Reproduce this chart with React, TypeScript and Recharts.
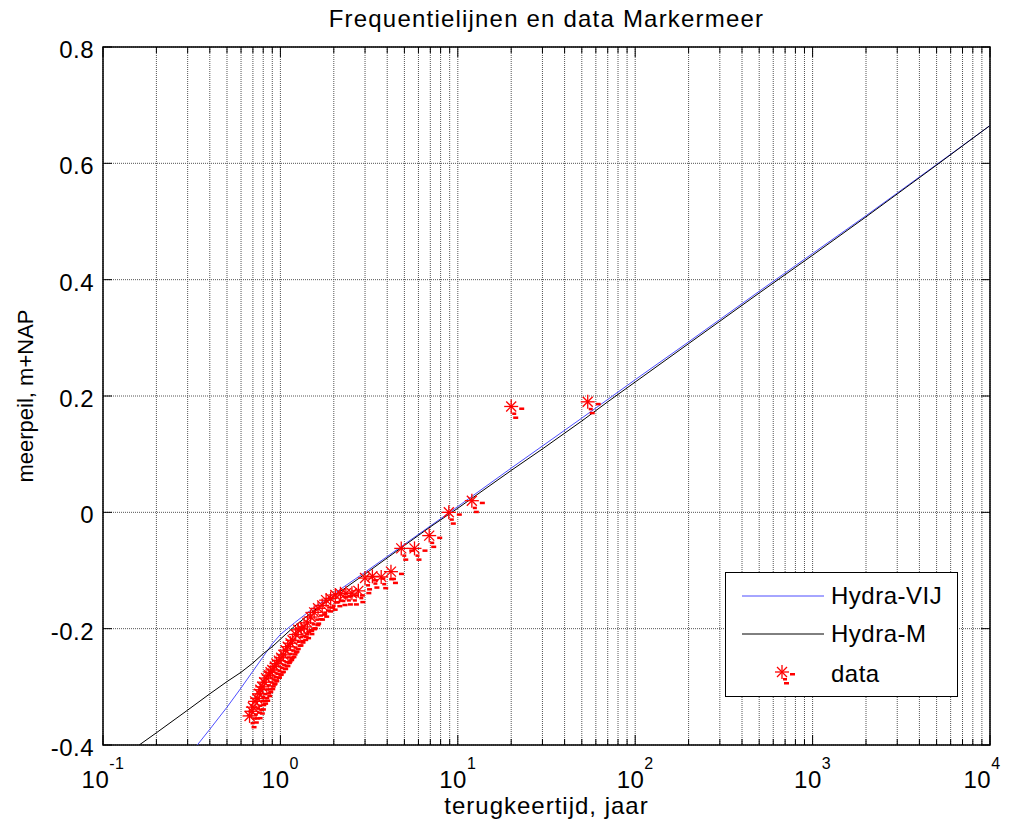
import {
  CartesianGrid,
  ComposedChart,
  Line,
  ReferenceArea,
  Scatter,
  XAxis,
  YAxis,
} from "recharts";

// Hydra-VIJ frequency line (return period in years, lake level m+NAP)
const HYDRA_VIJ_T = [0.34, 0.4, 0.5, 0.6, 0.7, 0.8, 0.9, 1.0, 1.2, 1.5, 2, 3, 5, 10, 20, 50, 100, 200, 500, 1000, 2000, 5000, 10000];
const HYDRA_VIJ_Y = [-0.4, -0.373, -0.335, -0.302, -0.273, -0.248, -0.226, -0.21, -0.19, -0.167, -0.14, -0.103, -0.055, 0.01, 0.076, 0.162, 0.228, 0.293, 0.38, 0.445, 0.51, 0.598, 0.665];

// Hydra-M frequency line
const HYDRA_M_T = [0.16, 0.2, 0.3, 0.4, 0.5, 0.6, 0.7, 0.8, 0.9, 1.0, 1.2, 1.5, 2, 3, 5, 7, 10, 15, 20, 30, 50, 70, 100, 200, 500, 1000, 2000, 5000, 10000];
const HYDRA_M_Y = [-0.4, -0.379, -0.34, -0.312, -0.291, -0.275, -0.259, -0.243, -0.231, -0.218, -0.196, -0.172, -0.144, -0.106, -0.057, -0.025, 0.007, 0.045, 0.072, 0.109, 0.157, 0.19, 0.224, 0.29, 0.377, 0.442, 0.508, 0.597, 0.665];

// measured data
const DATA_T = [54, 20, 12, 8.9, 6.9, 5.7, 4.8, 4.2, 3.7, 3.3, 3.0, 2.75, 2.53, 2.34, 2.18, 2.04, 1.92, 1.81, 1.72, 1.63, 1.55, 1.48, 1.42, 1.36, 1.31, 1.26, 1.22, 1.17, 1.14, 1.10, 1.07, 1.04, 1.01, 0.98, 0.95, 0.93, 0.90, 0.88, 0.86, 0.83, 0.81, 0.79, 0.77, 0.76, 0.74, 0.72, 0.70, 0.69, 0.67];
const DATA_Y = [0.19, 0.182, 0.02, 0.0, -0.04, -0.062, -0.062, -0.102, -0.111, -0.11, -0.113, -0.135, -0.139, -0.139, -0.14, -0.142, -0.148, -0.151, -0.16, -0.165, -0.172, -0.18, -0.19, -0.197, -0.2, -0.202, -0.21, -0.22, -0.225, -0.231, -0.237, -0.245, -0.25, -0.255, -0.26, -0.265, -0.271, -0.275, -0.28, -0.285, -0.292, -0.3, -0.305, -0.312, -0.32, -0.325, -0.335, -0.342, -0.35];

const DECADES = [0.1, 1, 10, 100, 1000];
const MULTS = [1, 2, 3, 4, 5, 6, 7, 8, 9];
const X_TICKS = [...DECADES.flatMap((d) => MULTS.map((m) => +(d * m).toPrecision(3))), 10000];
const Y_TICKS = [-0.4, -0.2, 0, 0.2, 0.4, 0.6, 0.8];

const LEGEND = ["Hydra-VIJ", "Hydra-M", "data"];

const zip = (ts: number[], ys: number[]) => ts.map((t, i) => ({ t, y: ys[i] }));
const vij = zip(HYDRA_VIJ_T, HYDRA_VIJ_Y);
const hm = zip(HYDRA_M_T, HYDRA_M_Y);
const pts = zip(DATA_T, DATA_Y);

// the wrapper cancels the 8px body margin, so chart coords == page coords
const W = 1009;
const H = 830;
const MARGIN = { top: 47, right: 19, bottom: 0, left: 8 };
const Y_AXIS_W = 95;
const X_AXIS_H = 85;
const PLOT_W = W - MARGIN.left - MARGIN.right - Y_AXIS_W;
const PLOT_H = H - MARGIN.top - X_AXIS_H;

const FONT = '"Liberation Sans", Arial, Helvetica, sans-serif';
const RED = "#ff0000";
const BLUE = "#4d4dff";

const isDecade = (v: number) => {
  const l = Math.log10(v);
  return Math.abs(l - Math.round(l)) < 1e-9;
};

function BottomTick({ x, y, payload, index, visibleTicksCount }: any) {
  const v = payload.value;
  const major = isDecade(v);
  const len = major ? 10 : 6;
  const top = y - PLOT_H;
  const last = index === visibleTicksCount - 1;
  // the last label would run past the page edge: pull it in a little
  const lx = last ? x - 8 : x;
  return (
    <g>
      <line x1={x} x2={x} y1={y} y2={y - len} stroke="#000" />
      <line x1={x} x2={x} y1={top} y2={top + len} stroke="#000" />
      {major && (
        <text x={lx} y={y + 43} textAnchor="middle" fontSize={24} letterSpacing={0.5} fill="#000">
          10
          <tspan dy={-19} fontSize={16}>
            {Math.round(Math.log10(v))}
          </tspan>
        </text>
      )}
    </g>
  );
}

function LeftTick({ x, y, payload }: any) {
  const v = payload.value;
  const right = x + PLOT_W;
  return (
    <g>
      <line x1={x} x2={x + 9} y1={y} y2={y} stroke="#000" />
      <line x1={right} x2={right - 9} y1={y} y2={y} stroke="#000" />
      <text x={x - 9} y={y + 11} textAnchor="end" fontSize={24} letterSpacing={0.5} fill="#000">
        {v === 0 ? "0" : v.toFixed(1)}
      </text>
    </g>
  );
}

function StarMark({ cx, cy }: { cx: number; cy: number }) {
  if (cx == null || cy == null) return null;
  return (
    <g stroke={RED} strokeWidth={1.3}>
      <line x1={cx - 7} x2={cx + 7} y1={cy} y2={cy} />
      <line x1={cx} x2={cx} y1={cy - 7} y2={cy + 7} />
      <line x1={cx - 5} x2={cx + 5} y1={cy - 5} y2={cy + 5} />
      <line x1={cx + 5} x2={cx - 5} y1={cy - 5} y2={cy + 5} />
      <rect x={cx + 8} y={cy + 1} width={5} height={2.5} fill={RED} stroke="none" />
      <rect x={cx + 1} y={cy + 6} width={4} height={2.5} fill={RED} stroke="none" />
      <rect x={cx + 2} y={cy + 10} width={5} height={2.5} fill={RED} stroke="none" />
    </g>
  );
}

function LegendBox() {
  const rows = [23, 61, 101];
  return (
    <div
      style={{
        position: "absolute",
        left: 725,
        top: 572,
        width: 231,
        height: 123,
        border: "1px solid #000",
        background: "#fff",
      }}
    >
      {LEGEND.map((name, i) => (
        <div key={name} style={{ position: "absolute", left: 0, top: rows[i] - 16, height: 32, width: "100%" }}>
          <svg width={100} height={32} style={{ position: "absolute", left: 0, top: 0 }}>
            {i === 0 && <line x1={16} x2={98} y1={16} y2={16} stroke={BLUE} />}
            {i === 1 && <line x1={16} x2={98} y1={16} y2={16} stroke="#000" />}
            {i === 2 && <StarMark cx={56} cy={14} />}
          </svg>
          <span
            style={{
              position: "absolute",
              left: 105,
              top: 0,
              lineHeight: "32px",
              fontSize: 24,
              letterSpacing: 0.5,
              color: "#000",
            }}
          >
            {name}
          </span>
        </div>
      ))}
    </div>
  );
}

export default function App() {
  return (
    <div style={{ position: "relative", margin: -8, width: W, height: H, fontFamily: FONT, background: "#fff" }}>
      <div
        style={{
          position: "absolute",
          top: 8,
          left: MARGIN.left + Y_AXIS_W,
          width: PLOT_W,
          height: 22,
          lineHeight: "22px",
          fontSize: 24,
          letterSpacing: 1.2,
          textAlign: "center",
          color: "#000",
        }}
      >
        Frequentielijnen en data Markermeer
      </div>
      <ComposedChart width={W} height={H} margin={MARGIN}>
        <CartesianGrid stroke="#555" strokeDasharray="1 1" />
        <XAxis
          type="number"
          dataKey="t"
          scale="log"
          domain={[0.1, 10000]}
          ticks={X_TICKS}
          interval={0}
          allowDataOverflow
          height={X_AXIS_H}
          tickSize={0}
          tickMargin={0}
          tickLine={false}
          axisLine={false}
          tick={<BottomTick />}
          label={{
            value: "terugkeertijd, jaar",
            position: "insideBottom",
            offset: 16,
            fontSize: 24,
            letterSpacing: 1,
            fill: "#000",
          }}
        />
        <YAxis
          type="number"
          dataKey="y"
          domain={[-0.4, 0.8]}
          ticks={Y_TICKS}
          interval={0}
          allowDataOverflow
          width={Y_AXIS_W}
          tickSize={0}
          tickMargin={0}
          tickLine={false}
          axisLine={false}
          tick={<LeftTick />}
          label={{
            value: "meerpeil, m+NAP",
            angle: -90,
            position: "insideLeft",
            offset: 17,
            fontSize: 22,
            fill: "#000",
            style: { textAnchor: "middle" },
          }}
        />
        <ReferenceArea
          x1={0.1}
          x2={10000}
          y1={-0.4}
          y2={0.8}
          fill="none"
          stroke="#000"
          strokeWidth={1.5}
          ifOverflow="visible"
        />
        <Line
          data={vij}
          dataKey="y"
          type="linear"
          stroke={BLUE}
          strokeWidth={1}
          dot={false}
          activeDot={false}
          isAnimationActive={false}
        />
        <Line
          data={hm}
          dataKey="y"
          type="linear"
          stroke="#000"
          strokeWidth={1}
          dot={false}
          activeDot={false}
          isAnimationActive={false}
        />
        <Scatter data={pts} dataKey="y" shape={(p: any) => <StarMark cx={p.cx} cy={p.cy} />} isAnimationActive={false} />
      </ComposedChart>
      <LegendBox />
    </div>
  );
}
